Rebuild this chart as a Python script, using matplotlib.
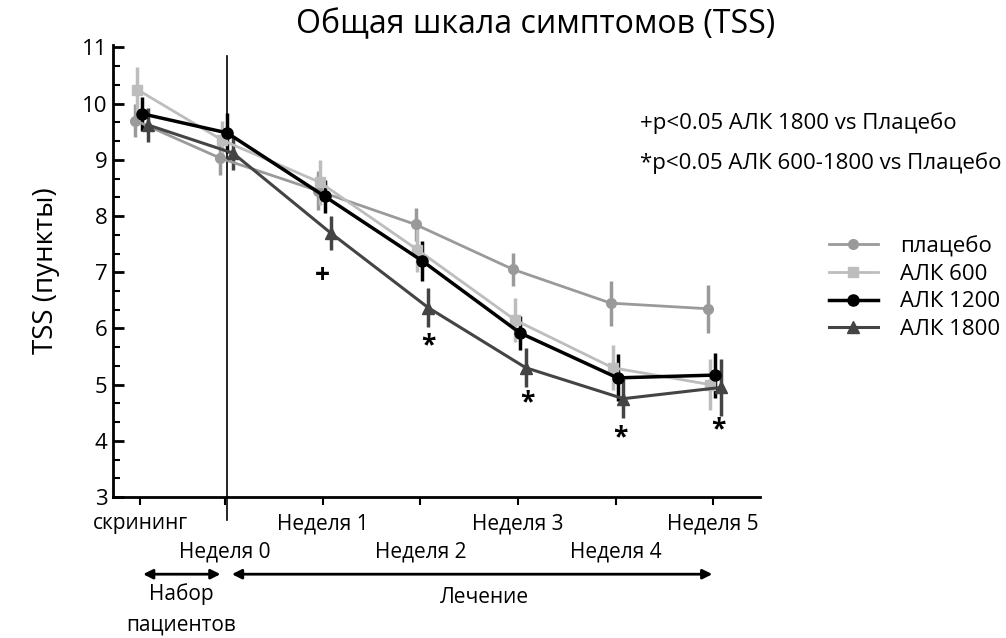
import numpy as np
import matplotlib
matplotlib.use("Agg")
import matplotlib.pyplot as plt
from matplotlib.ticker import MultipleLocator
from matplotlib.transforms import blended_transform_factory

plt.rcParams['font.family'] = ['Open Sans', 'DejaVu Sans']

# visit positions (weeks); screening sits before week 0
visits = [-0.87, 0, 1, 2, 3, 4, 5]
visit_labels = ["скрининг", "Неделя 0", "Неделя 1", "Неделя 2", "Неделя 3", "Неделя 4", "Неделя 5"]

placebo = [9.70, 9.03, 8.45, 7.85, 7.05, 6.45, 6.35]
placebo_err = [0.30, 0.30, 0.35, 0.30, 0.30, 0.40, 0.43]
alk600 = [10.25, 9.35, 8.60, 7.40, 6.15, 5.30, 5.00]
alk600_err = [0.40, 0.35, 0.40, 0.40, 0.40, 0.40, 0.45]
alk1200 = [9.82, 9.48, 8.35, 7.20, 5.92, 5.12, 5.17]
alk1200_err = [0.30, 0.35, 0.30, 0.35, 0.30, 0.42, 0.40]
alk1800 = [9.62, 9.12, 7.70, 6.37, 5.30, 4.75, 4.95]
alk1800_err = [0.30, 0.30, 0.30, 0.35, 0.35, 0.35, 0.50]

# significance marks under the АЛК 1800 curve
sig_weeks = [1, 2.08, 3.1, 4.05, 5.05]
sig_marks = ["+", "*", "*", "*", "*"]
sig_y = [6.94, 5.69, 4.68, 4.05, 4.19]

series = [
    ("плацебо", placebo, placebo_err, "#9a9a9a", "o", 7, 2.0, -0.05),
    ("АЛК 600", alk600, alk600_err, "#bdbdbd", "s", 7, 2.0, -0.03),
    ("АЛК 1200", alk1200, alk1200_err, "#000000", "o", 8, 2.5, 0.02),
    ("АЛК 1800", alk1800, alk1800_err, "#444444", "^", 9, 2.2, 0.08),
]

fig = plt.figure(figsize=(10.06, 6.38), dpi=100)
ax = fig.add_axes([0.1123, 0.221, 0.6432, 0.709])

handles, names = [], []
for name, vals, errs, col, mk, ms, lw, dx in series:
    xs = np.array(visits) + dx
    eb = ax.errorbar(xs, vals, yerr=errs, color=col, marker=mk, markersize=ms,
                     linewidth=lw, elinewidth=2.5, capsize=0, clip_on=False)
    handles.append(eb[0])
    names.append(name)

for x, m, y in zip(sig_weeks, sig_marks, sig_y):
    ax.text(x, y, m, ha='center', va='center', fontsize=19, fontweight='bold', color='black')

# vertical divider between screening and treatment
ax.axvline(0.02, ymin=-0.05, ymax=0.975, color='black', lw=1.2, clip_on=False)

ax.set_xlim(-1.15, 5.48)
ax.set_ylim(3, 11.05)
ax.yaxis.set_major_locator(MultipleLocator(1))
ax.yaxis.set_minor_locator(MultipleLocator(1 / 3))
ax.tick_params(axis='y', which='major', direction='in', length=8, width=2, labelsize=16, pad=4)
ax.tick_params(axis='y', which='minor', direction='in', length=5, width=1.5)
ax.set_xticks(visits)
ax.set_xticklabels([])
ax.tick_params(axis='x', direction='out', length=6, width=1.5)
for s in ['top', 'right']:
    ax.spines[s].set_visible(False)
for s in ['left', 'bottom']:
    ax.spines[s].set_linewidth(2)

tr = blended_transform_factory(ax.transData, fig.transFigure)

# two staggered rows of visit labels
for i, (x, lab) in enumerate(zip(visits, visit_labels)):
    yrow = 0.179 if i % 2 == 0 else 0.135
    ax.text(x, yrow, lab, transform=tr, ha='center', va='center', fontsize=15)

ax.set_ylabel("TSS (пункты)", fontsize=20, labelpad=16)
fig.text(0.532, 0.961, "Общая шкала симптомов (TSS)", ha='center', va='center', fontsize=23)

fig.text(0.636, 0.807, "+p<0.05 АЛК 1800 vs Плацебо", ha='left', va='center', fontsize=16)
fig.text(0.636, 0.745, "*p<0.05 АЛК 600-1800 vs Плацебо", ha='left', va='center', fontsize=16)

ax.legend(handles, names, loc='upper left', bbox_to_anchor=(0.813, 0.648), bbox_transform=fig.transFigure,
          frameon=False, fontsize=16, handlelength=2.2, handletextpad=1.0,
          labelspacing=0.3, borderpad=0)

# study phase arrows
ax.annotate("", xy=(-0.87, 0.100), xytext=(-0.02, 0.100), xycoords=tr, textcoords=tr,
            arrowprops=dict(arrowstyle='<|-|>', color='black', lw=2, mutation_scale=14), annotation_clip=False)
ax.annotate("", xy=(0.04, 0.100), xytext=(5.02, 0.100), xycoords=tr, textcoords=tr,
            arrowprops=dict(arrowstyle='<|-|>', color='black', lw=2, mutation_scale=14), annotation_clip=False)
ax.text(-0.45, 0.069, "Набор", transform=tr, ha='center', va='center', fontsize=15)
ax.text(-0.45, 0.020, "пациентов", transform=tr, ha='center', va='center', fontsize=15)
ax.text(2.66, 0.064, "Лечение", transform=tr, ha='center', va='center', fontsize=15)

fig.savefig("out.png", dpi=100)
